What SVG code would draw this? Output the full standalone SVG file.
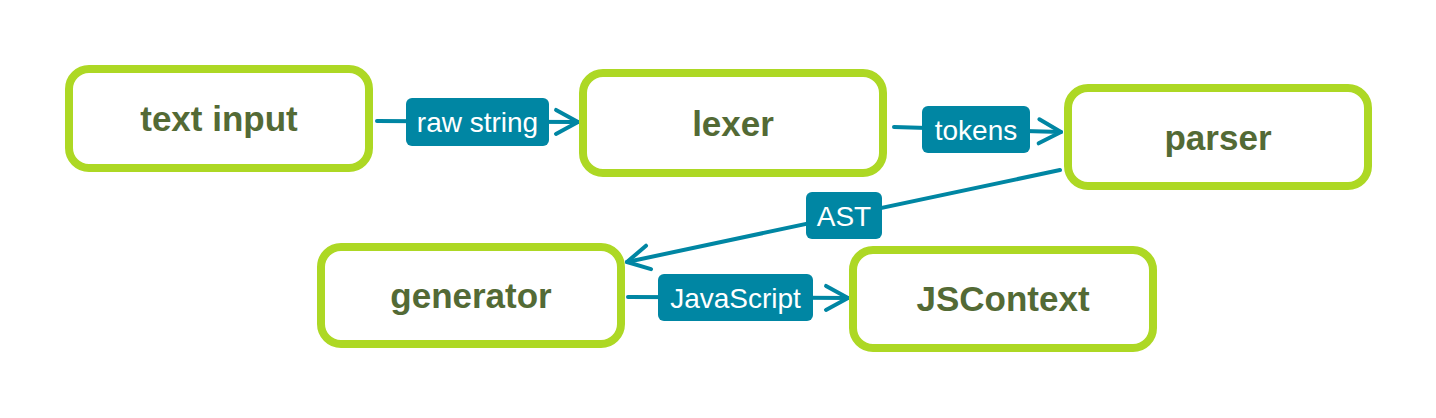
<svg xmlns="http://www.w3.org/2000/svg" width="1436" height="418" viewBox="0 0 1436 418">
  <style>
    .box { fill: #ffffff; stroke: #add824; stroke-width: 8; }
    .ntext { font-family: "Liberation Sans", Arial, sans-serif; font-weight: bold; font-size: 35px; fill: #536a35; text-anchor: middle; }
    .conn { fill: none; stroke: #0086a3; stroke-width: 4; stroke-linecap: round; }
    .lbl { fill: #0086a3; }
    .ltext { font-family: "Liberation Sans", Arial, sans-serif; font-size: 28px; fill: #ffffff; text-anchor: middle; }
  </style>
  <defs>
    <marker id="arrow" markerUnits="userSpaceOnUse" markerWidth="30" markerHeight="30" viewBox="-26 -15 30 30" refX="0" refY="0" orient="auto" overflow="visible">
      <path d="M -22 -12 L 0 0 L -22 12" fill="none" stroke="#0086a3" stroke-width="4" stroke-linecap="round" stroke-linejoin="round"/>
    </marker>
  </defs>
  <rect width="1436" height="418" fill="#ffffff"/>

  <g id="connectors">
    <g id="c1">
      <line class="conn" x1="377" y1="121" x2="578" y2="122" marker-end="url(#arrow)"/>
      <rect class="lbl" x="406" y="98" width="143" height="48" rx="6"/>
      <text class="ltext" x="477.5" y="132">raw string</text>
    </g>
    <g id="c2">
      <line class="conn" x1="894" y1="127" x2="1061" y2="132" marker-end="url(#arrow)"/>
      <rect class="lbl" x="922" y="106" width="108" height="47" rx="6"/>
      <text class="ltext" x="976" y="139.5">tokens</text>
    </g>
    <g id="c3">
      <line class="conn" x1="1060" y1="170" x2="627" y2="262" marker-end="url(#arrow)"/>
      <rect class="lbl" x="806" y="192" width="76" height="47" rx="6"/>
      <text class="ltext" x="844" y="225.5">AST</text>
    </g>
    <g id="c4">
      <line class="conn" x1="628" y1="297" x2="848" y2="298" marker-end="url(#arrow)"/>
      <rect class="lbl" x="658" y="274" width="155" height="47" rx="6"/>
      <text class="ltext" x="735.5" y="307.5">JavaScript</text>
    </g>
  </g>

  <g id="node-text-input">
    <rect class="box" x="69" y="69" width="300" height="99" rx="20"/>
    <text class="ntext" x="219" y="131">text input</text>
  </g>
  <g id="node-lexer">
    <rect class="box" x="583" y="73" width="300" height="100" rx="20"/>
    <text class="ntext" x="733" y="136">lexer</text>
  </g>
  <g id="node-parser">
    <rect class="box" x="1068" y="88" width="300" height="98" rx="20"/>
    <text class="ntext" x="1218" y="150">parser</text>
  </g>
  <g id="node-generator">
    <rect class="box" x="321" y="247" width="300" height="97" rx="20"/>
    <text class="ntext" x="471" y="308">generator</text>
  </g>
  <g id="node-jscontext">
    <rect class="box" x="853" y="250" width="300" height="98" rx="20"/>
    <text class="ntext" x="1003" y="311">JSContext</text>
  </g>
</svg>
